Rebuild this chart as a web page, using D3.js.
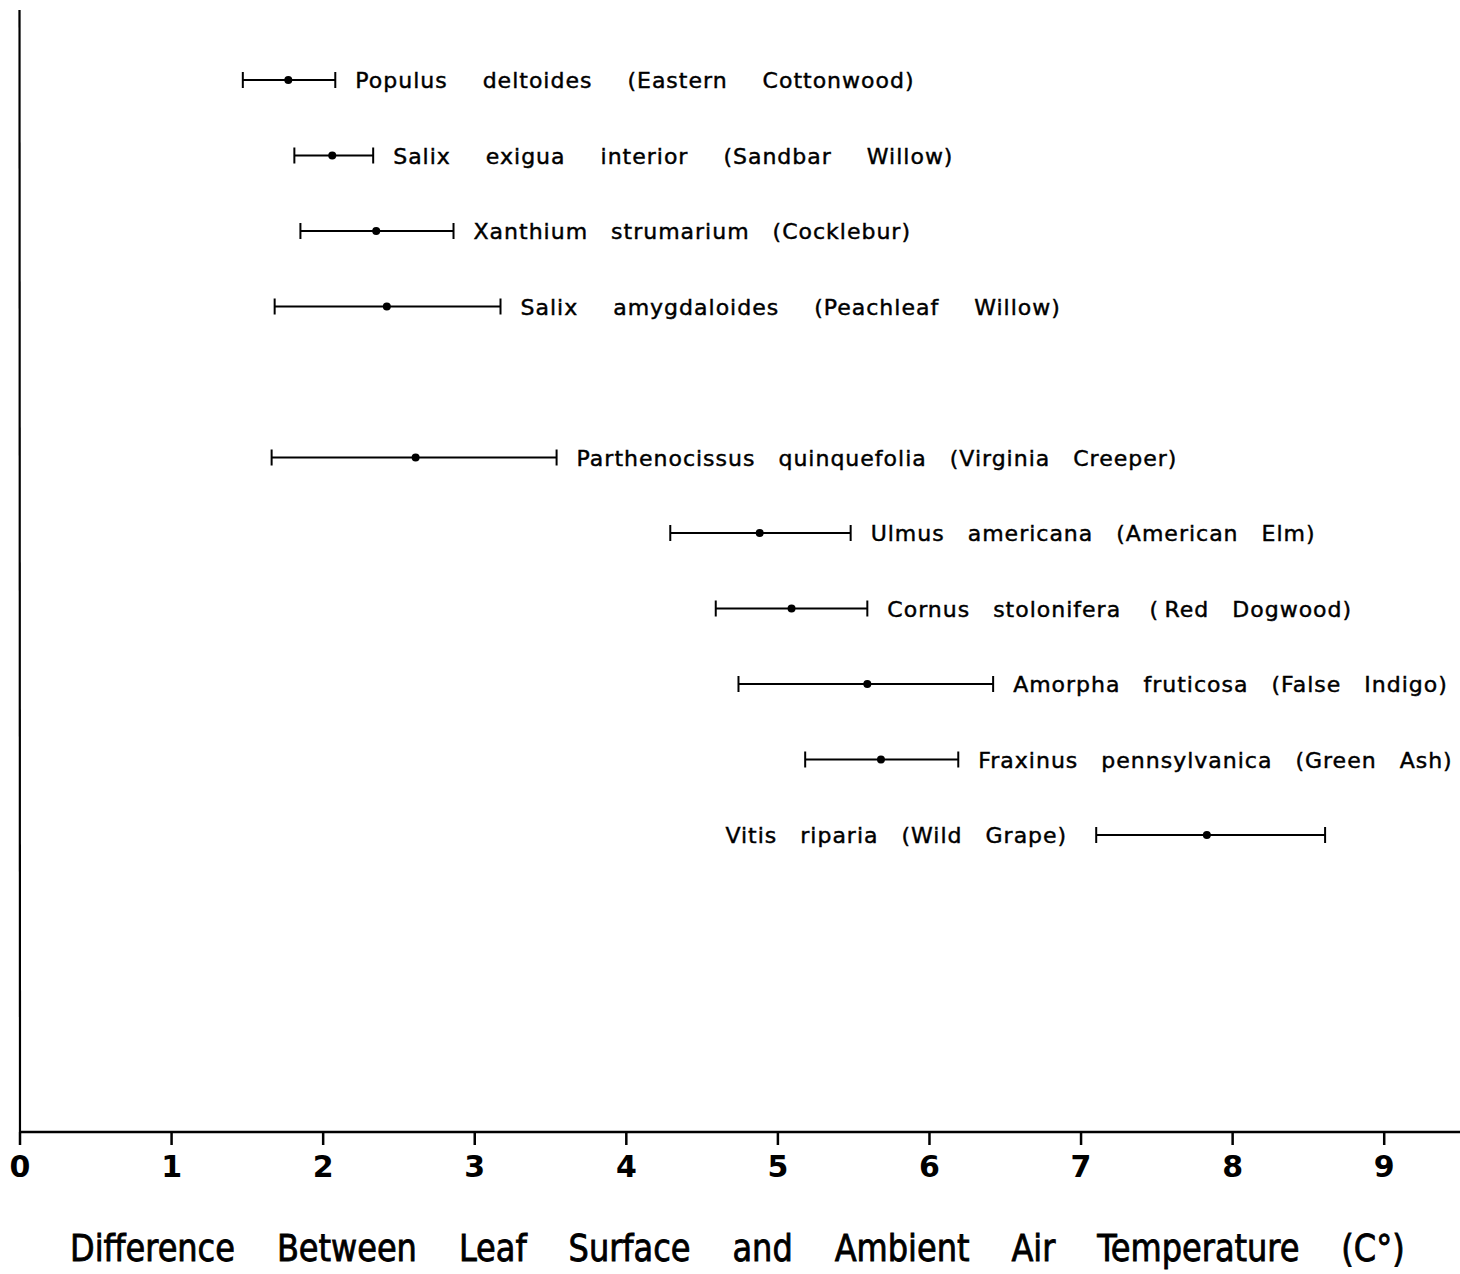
<!DOCTYPE html>
<html>
<head>
<meta charset="utf-8">
<script src="https://cdn.jsdelivr.net/npm/d3@7"></script>
<style>
  body { margin: 0; background: #fff; }
  svg { display: block; }
  .label { font-family: "DejaVu Sans", sans-serif; font-size: 22px; letter-spacing: 1px; word-spacing: 15px; white-space: pre; fill: #000; stroke: #000; stroke-width: 0.45px; }
  .tick-label { font-family: "DejaVu Sans", sans-serif; font-weight: bold; font-size: 30px; fill: #000; }
  .title { font-family: "DejaVu Sans Condensed", "DejaVu Sans", sans-serif; font-size: 38px; word-spacing: 34px; fill: #000; stroke: #000; stroke-width: 0.8px; }
</style>
</head>
<body>
<svg id="chart" width="1460" height="1274"></svg>
<script>
// species (row index leaves a gap between the first 4 and the rest)
// \u2002 = en space, used where the lettering has wider word gaps
const species = [
  "Populus\u2002 deltoides\u2002 (Eastern\u2002 Cottonwood)",
  "Salix\u2002 exigua\u2002 interior\u2002 (Sandbar\u2002 Willow)",
  "Xanthium strumarium (Cocklebur)",
  "Salix\u2002 amygdaloides\u2002 (Peachleaf\u2002 Willow)",
  "Parthenocissus quinquefolia (Virginia Creeper)",
  "Ulmus americana (American Elm)",
  "Cornus stolonifera \u2009(\u2009Red Dogwood)",
  "Amorpha fruticosa (False Indigo)",
  "Fraxinus pennsylvanica (Green Ash)",
  "Vitis riparia (Wild Grape)"
];
const rows = [0, 1, 2, 3, 5, 6, 7, 8, 9, 10];
const lows  = [1.47, 1.81, 1.85, 1.68, 1.66, 4.29, 4.59, 4.74, 5.18, 7.10];
const means = [1.77, 2.06, 2.35, 2.42, 2.61, 4.88, 5.09, 5.59, 5.68, 7.83];
const highs = [2.08, 2.33, 2.86, 3.17, 3.54, 5.48, 5.59, 6.42, 6.19, 8.61];
const labelSide = ["r", "r", "r", "r", "r", "r", "r", "r", "r", "l"];
const xTicks = [0, 1, 2, 3, 4, 5, 6, 7, 8, 9];
const xTitle = "Difference Between Leaf Surface and Ambient Air Temperature (C\u00B0)";

const data = species.map((name, i) => ({
  name, row: rows[i], lo: lows[i], mean: means[i], hi: highs[i], side: labelSide[i]
}));

const svg = d3.select("#chart");
const axisY = 1132;

const x = d3.scaleLinear().domain([0, 9.5]).range([20, 1460]);
const y = d3.scaleLinear().domain([0, 10]).range([80, 835]);

// axes
svg.append("line")
  .attr("x1", x(0)).attr("x2", x(9.5))
  .attr("y1", axisY).attr("y2", axisY)
  .attr("stroke", "#000").attr("stroke-width", 2.5);

svg.append("line")
  .attr("x1", x(0)).attr("x2", x(0) - 0.5)
  .attr("y1", axisY).attr("y2", 10)
  .attr("stroke", "#000").attr("stroke-width", 2.2);

const ticks = svg.append("g").selectAll("g")
  .data(xTicks)
  .join("g")
  .attr("transform", d => `translate(${x(d)},${axisY})`);

ticks.append("line")
  .attr("y1", 0).attr("y2", 13)
  .attr("stroke", "#000").attr("stroke-width", 2.5);

ticks.append("text")
  .attr("class", "tick-label")
  .attr("y", 45)
  .attr("text-anchor", "middle")
  .text(d => d);

// title: squeeze horizontally to span from 70 to 1405
const title = svg.append("text")
  .attr("class", "title")
  .text(xTitle);
const tw = title.node().getComputedTextLength();
title.attr("transform", `translate(70,1261) scale(${1335 / tw},1)`);

// error bars
const bars = svg.append("g").selectAll("g")
  .data(data)
  .join("g")
  .attr("transform", d => `translate(0,${y(d.row)})`);

bars.append("line")
  .attr("x1", d => x(d.lo)).attr("x2", d => x(d.hi))
  .attr("stroke", "#000").attr("stroke-width", 2);

bars.selectAll("line.cap")
  .data(d => [d.lo, d.hi])
  .join("line")
  .attr("class", "cap")
  .attr("x1", d => x(d)).attr("x2", d => x(d))
  .attr("y1", -8).attr("y2", 8)
  .attr("stroke", "#000").attr("stroke-width", 2);

bars.append("circle")
  .attr("cx", d => x(d.mean))
  .attr("r", 4)
  .attr("fill", "#000");

bars.append("text")
  .attr("class", "label")
  .attr("x", d => d.side === "r" ? x(d.hi) + 20 : x(d.lo) - 29)
  .attr("y", 8)
  .attr("text-anchor", d => d.side === "r" ? "start" : "end")
  .text(d => d.name);
</script>
</body>
</html>
